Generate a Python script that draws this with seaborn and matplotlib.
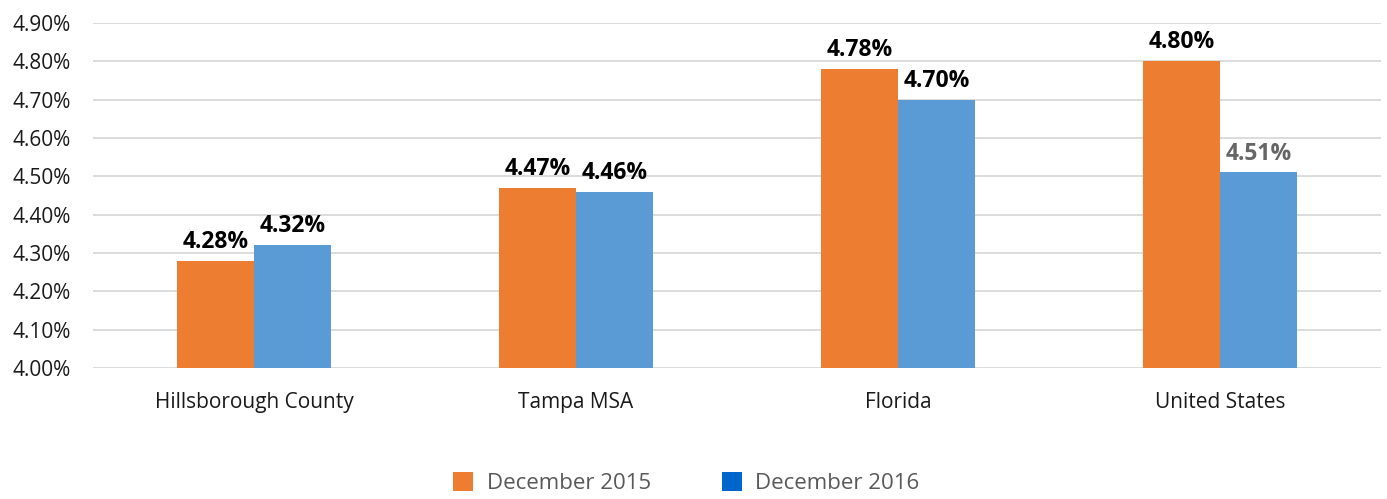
import matplotlib
matplotlib.use("Agg")
import matplotlib.pyplot as plt
import seaborn as sns
import pandas as pd
from matplotlib.patches import Patch
from matplotlib.ticker import FuncFormatter, MultipleLocator

regions = ["Hillsborough County", "Tampa MSA", "Florida", "United States"]
periods = ["December 2015", "December 2016"]
dec_2015 = [4.28, 4.47, 4.78, 4.80]
dec_2016 = [4.32, 4.46, 4.70, 4.51]

bar_colors = ["#ED7D31", "#5B9BD5"]
legend_colors = ["#ED7D31", "#0066CC"]

df = pd.DataFrame({
    "region": regions * 2,
    "period": [periods[0]] * 4 + [periods[1]] * 4,
    "rate": dec_2015 + dec_2016,
})

sns.set_theme(style="white")
plt.rcParams["font.family"] = ["Open Sans", "DejaVu Sans"]

fig = plt.figure(figsize=(13.87, 4.99), dpi=100)
ax = fig.add_axes([0.067, 0.2625, 0.9287, 0.6915])

sns.barplot(data=df, x="region", y="rate", hue="period", order=regions,
            hue_order=periods, palette=bar_colors, width=0.48, gap=0,
            saturation=1, ax=ax, legend=False, edgecolor="none")

ax.set_ylim(4.0, 4.9)
ax.yaxis.set_major_locator(MultipleLocator(0.1))
ax.yaxis.set_major_formatter(FuncFormatter(lambda v, p: f"{v:.2f}%"))
ax.grid(axis="y", color="#D9D9D9", linewidth=1.3)
ax.set_axisbelow(True)
for s in ax.spines.values():
    s.set_visible(False)
ax.tick_params(axis="both", length=0, colors="#1a1a1a")
ax.tick_params(axis="y", pad=16, labelsize=15)
ax.tick_params(axis="x", pad=17, labelsize=15)
ax.set_xlabel("")
ax.set_ylabel("")

label_colors = [["#000000"] * 4, ["#000000", "#000000", "#000000", "#666666"]]
for ci, cont in enumerate(ax.containers):
    labels = [f"{v:.2f}%" for v in cont.datavalues]
    txts = ax.bar_label(cont, labels=labels, padding=5, fontsize=16.5,
                        fontweight="bold")
    for t, c in zip(txts, label_colors[ci]):
        t.set_color(c)

handles = [Patch(facecolor=c, edgecolor="none") for c in legend_colors]
fig.legend(handles, periods, loc="center", bbox_to_anchor=(0.495, 0.032),
           ncol=2, frameon=False, fontsize=16, labelcolor="#595959",
           handlelength=0.9, handleheight=0.9, columnspacing=3.2,
           handletextpad=0.6)

fig.savefig("out.png", dpi=100)
